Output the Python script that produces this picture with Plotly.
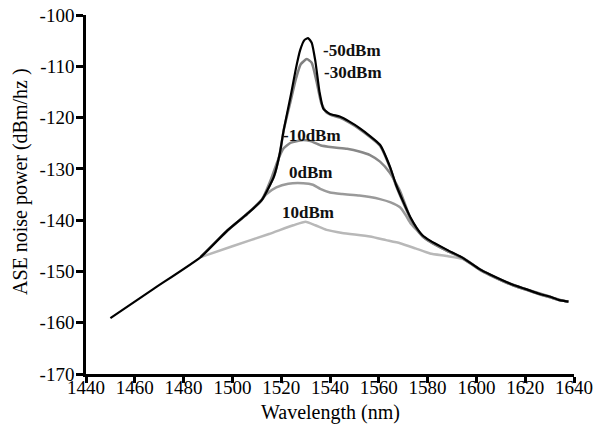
import plotly.graph_objects as go

# -50 dBm (black)
x_m50 = [1450, 1468, 1487, 1498, 1506, 1512, 1517, 1519.5, 1521, 1524, 1526, 1527.8, 1529.5, 1531,
         1532.5, 1534, 1535.7, 1537.3, 1540, 1544, 1548, 1552, 1556.4, 1560.5, 1564.6, 1567, 1570,
         1573, 1575.5, 1578, 1581, 1588, 1594.6, 1601.5, 1605.6, 1615, 1620, 1626, 1630, 1634, 1637.7]
y_m50 = [-159.1, -153.3, -147.2, -142.0, -138.8, -136.1, -131.5, -126.8, -122.5, -115.5, -110.5, -106.8, -104.9, -104.5,
         -105.4, -109.0, -115.0, -118.3, -119.3, -119.8, -120.8, -122.0, -123.6, -125.3, -129.6, -133.0, -136.4,
         -139.5, -141.5, -143.0, -144.0, -145.8, -147.4, -149.6, -150.6, -152.6, -153.4, -154.4, -154.9, -155.6, -155.9]

# -30 dBm
x_m30 = [1487, 1498, 1506, 1512, 1517, 1519.5, 1521, 1524, 1526, 1528, 1530.5, 1532.5, 1534.5, 1536.5,
         1538.5, 1541, 1544, 1548, 1552, 1556.4, 1560.5, 1564.6, 1567, 1570, 1573, 1575.5, 1578, 1581,
         1588, 1594.6, 1601.5, 1605.6, 1615, 1620, 1626, 1630, 1634, 1637.7]
y_m30 = [-147.2, -142.0, -138.8, -136.1, -131.5, -126.8, -122.5, -116.5, -112.5, -109.6, -108.6, -109.3, -113.0, -117.3,
         -119.0, -119.6, -120.0, -121.0, -122.2, -123.8, -125.5, -129.8, -133.2, -136.6, -139.7, -141.7, -143.2, -144.2,
         -146.0, -147.5, -149.7, -150.7, -152.7, -153.5, -154.5, -155.0, -155.6, -155.9]

# -10 dBm
x_m10 = [1487, 1498, 1506, 1512, 1516, 1518.5, 1521, 1524, 1528.5, 1532, 1536, 1541, 1547, 1552, 1556.4,
         1560.5, 1564.6, 1568.7, 1571, 1573, 1575.5, 1578, 1581, 1588, 1594.6, 1601.5, 1605.6, 1615, 1620,
         1626, 1630, 1634, 1637.7]
y_m10 = [-147.2, -142.0, -138.8, -136.1, -131.8, -128.5, -126.0, -124.9, -124.4, -124.6, -125.4, -125.8, -126.1, -126.6, -127.3,
         -128.6, -130.8, -134.3, -137.2, -139.7, -141.6, -143.1, -144.1, -145.9, -147.4, -149.6, -150.6, -152.6, -153.4,
         -154.3, -154.9, -155.5, -155.9]

# 0 dBm
x_0 = [1487, 1498, 1506, 1512, 1514, 1518, 1522.9, 1529, 1533, 1536, 1540, 1545, 1552, 1556.4, 1560.5,
       1564.6, 1568.7, 1571, 1573, 1575.5, 1578, 1581, 1588, 1594.6, 1601.5, 1605.6, 1615, 1620, 1626,
       1630, 1634, 1637.7]
y_0 = [-147.2, -142.0, -138.8, -136.0, -134.9, -133.6, -132.9, -132.8, -133.1, -133.9, -134.6, -134.9, -135.2, -135.5, -135.9,
       -136.5, -137.5, -139.0, -140.6, -141.9, -143.2, -144.2, -146.0, -147.5, -149.7, -150.7, -152.7, -153.5, -154.4,
       -155.0, -155.6, -155.9]

# 10 dBm
x_10 = [1487, 1500, 1515, 1525, 1530, 1534, 1538.6, 1545, 1556.4, 1563, 1568.7, 1575, 1581, 1588, 1594.6,
        1601.5, 1605.6, 1615, 1620, 1626, 1630, 1634, 1637.7]
y_10 = [-147.2, -145.1, -142.7, -141.0, -140.3, -141.0, -141.9, -142.5, -143.2, -143.9, -144.5, -145.5, -146.5, -147.0, -147.6,
        -149.7, -150.7, -152.7, -153.5, -154.4, -155.0, -155.6, -155.9]

labels = ["-50dBm", "-30dBm", "-10dBm", "0dBm", "10dBm"]
label_x = [1549.0, 1549.6, 1532.8, 1532.2, 1530.8]
label_y = [-107.0, -111.3, -123.4, -130.8, -138.6]

x_ticks = [1440, 1460, 1480, 1500, 1520, 1540, 1560, 1580, 1600, 1620, 1640]
y_ticks = [-170, -160, -150, -140, -130, -120, -110, -100]

FONT = "Liberation Serif"

fig = go.Figure()
series = [
    (x_10, y_10, "#b8b8b8", 2.5),
    (x_0, y_0, "#9a9a9a", 2.5),
    (x_m10, y_m10, "#888888", 2.5),
    (x_m30, y_m30, "#808080", 2.5),
    (x_m50, y_m50, "#000000", 2.2),
]
for xs, ys, col, w in series:
    fig.add_trace(go.Scatter(x=xs, y=ys, mode="lines",
                             line=dict(color=col, width=w, shape="spline", smoothing=0.5),
                             showlegend=False, hoverinfo="skip"))

for t, lx, ly in zip(labels, label_x, label_y):
    fig.add_annotation(x=lx, y=ly, text="<b>" + t + "</b>", showarrow=False,
                       font=dict(family=FONT, size=17, color="#111111"))

# axis titles
fig.add_annotation(xref="paper", yref="paper", x=0.5, y=-0.106, text="Wavelength (nm)",
                   showarrow=False, xanchor="center", yanchor="middle",
                   font=dict(family=FONT, size=20, color="black"))
fig.add_annotation(xref="paper", yref="paper", x=-0.133, y=0.535, text="ASE noise power (dBm/hz )",
                   showarrow=False, textangle=-90, xanchor="center", yanchor="middle",
                   font=dict(family=FONT, size=20, color="black"))

fig.update_layout(
    width=600, height=427,
    margin=dict(l=86, r=26, t=15, b=53),
    paper_bgcolor="white", plot_bgcolor="white",
    font=dict(family=FONT, size=19, color="black"),
)
fig.update_xaxes(range=[1440, 1640], tickvals=x_ticks, ticktext=[str(v) for v in x_ticks],
                 showline=True, linecolor="black", linewidth=2.5, ticks="outside", ticklen=6,
                 tickwidth=2.5, tickcolor="black", showgrid=False, zeroline=False, automargin=False,
                 tickfont=dict(size=19), ticklabelstandoff=-12)
fig.update_yaxes(range=[-170, -100], tickvals=y_ticks, ticktext=[str(v) for v in y_ticks],
                 showline=True, linecolor="black", linewidth=2.5, ticks="outside", ticklen=7,
                 tickwidth=2.5, tickcolor="black", showgrid=False, zeroline=False, automargin=False,
                 tickfont=dict(size=19), ticklabelstandoff=-2)

fig.write_html("out.html", config={"displayModeBar": False},
               post_script="document.body.style.margin='0';")
